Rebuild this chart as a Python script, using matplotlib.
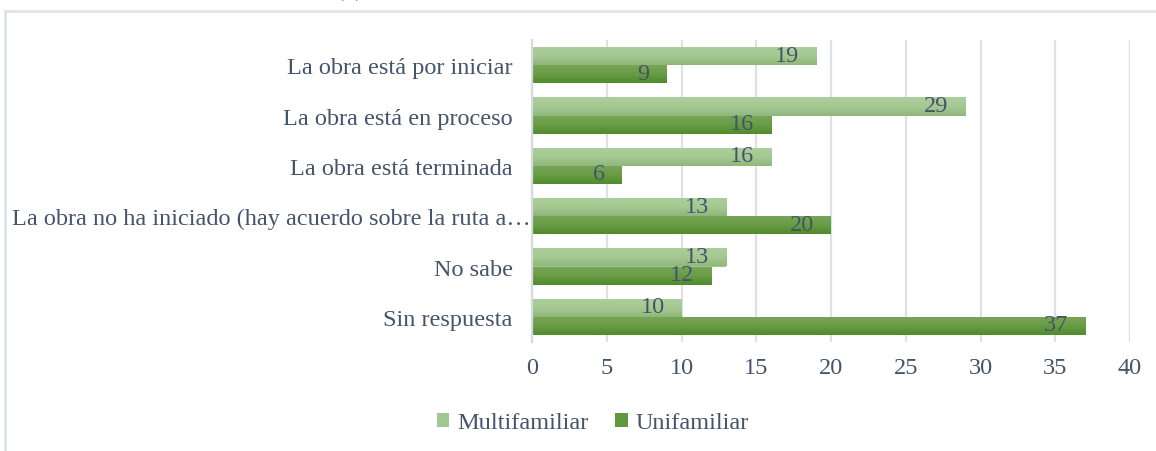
import matplotlib
matplotlib.use("Agg")
import matplotlib.pyplot as plt
import numpy as np
from matplotlib.colors import LinearSegmentedColormap
from matplotlib.patches import Rectangle
from matplotlib.transforms import ScaledTranslation

categories = [
    "La obra está por iniciar",
    "La obra está en proceso",
    "La obra está terminada",
    "La obra no ha iniciado (hay acuerdo sobre la ruta a…",
    "No sabe",
    "Sin respuesta",
]
multifamiliar = [19, 29, 16, 13, 13, 10]
unifamiliar = [9, 16, 6, 20, 12, 37]
xticks = [0, 5, 10, 15, 20, 25, 30, 35, 40]

TEXT = "#44546a"
FONT = "Liberation Serif"
FS = 17.5

plt.rcParams["font.family"] = [FONT, "DejaVu Serif"]

fig = plt.figure(figsize=(11.56, 4.52), dpi=100)
ax = fig.add_axes([532 / 1156, 1 - 343 / 452, 598 / 1156, 302 / 452])

n = len(categories)
pos = np.arange(n)
h = 0.36

cm_multi = LinearSegmentedColormap.from_list("m", ["#acce9c", "#a6c993", "#8fb77b"])
cm_uni = LinearSegmentedColormap.from_list("u", ["#78a658", "#6a9c48", "#4f8b2b"])

bars_m = ax.barh(pos - h / 2, multifamiliar, height=h, color="#a2c68f", zorder=2, label="Multifamiliar")
bars_u = ax.barh(pos + h / 2, unifamiliar, height=h, color="#609840", zorder=2, label="Unifamiliar")

grad = np.linspace(0, 1, 64).reshape(-1, 1)
for bars, cm in ((bars_m, cm_multi), (bars_u, cm_uni)):
    for p in bars:
        x0, y0 = p.get_x(), p.get_y()
        w, hh = p.get_width(), p.get_height()
        im = ax.imshow(grad, cmap=cm, aspect="auto",
                       extent=[x0, x0 + w, y0 + hh, y0], origin="upper", zorder=2.5)
        im.set_clip_path(p)

for bars, vals in ((bars_m, multifamiliar), (bars_u, unifamiliar)):
    for p, v in zip(bars, vals):
        ax.annotate(str(v), (p.get_x() + p.get_width(), p.get_y() + p.get_height() / 2),
                    xytext=(-17, 1), textcoords="offset pixels", ha="right", va="center",
                    fontsize=FS, color=TEXT, zorder=4)

ax.set_xlim(0, 40)
ax.set_ylim(n - 0.5, -0.5)
ax.set_xticks(xticks)
ax.set_xticklabels([str(t) for t in xticks])
ax.set_yticks(pos)
ax.set_yticklabels(categories)
ax.tick_params(axis="both", length=0, labelsize=FS, labelcolor=TEXT)
ax.tick_params(axis="x", pad=11)
ax.tick_params(axis="y", pad=14)
ax.xaxis.grid(True, color="#dde1e6", linewidth=1.6, zorder=0)
ax.set_axisbelow(True)
for s in ["top", "right", "bottom"]:
    ax.spines[s].set_visible(False)
ax.spines["left"].set_color("#d5dae0")
ax.spines["left"].set_linewidth(1.6)

# truncated long label sits closer to the axis, as in the reference
lab = ax.get_yticklabels()[3]
lab.set_transform(lab.get_transform() + ScaledTranslation(18 / 100, 0, fig.dpi_scale_trans))

leg = fig.legend(handles=[bars_m, bars_u], labels=["Multifamiliar", "Unifamiliar"],
                 loc="center", bbox_to_anchor=(593 / 1156, 1 - 424 / 452), ncol=2,
                 frameon=False, fontsize=FS, labelcolor=TEXT,
                 handlelength=0.5, handleheight=0.5, handletextpad=0.33, columnspacing=1.1)

# outer chart border
fig.patches.append(Rectangle((5 / 1156, -0.05), 1.2, 1 - 12 / 452 + 0.05,
                             transform=fig.transFigure, fill=False,
                             edgecolor="#dfe3e8", linewidth=2, zorder=0))

# partially visible title at top
fig.text(350 / 1156, 1 + 4 / 452, "(b)", ha="center", va="baseline", fontsize=FS, color=TEXT)

fig.savefig("out.png", dpi=100)
